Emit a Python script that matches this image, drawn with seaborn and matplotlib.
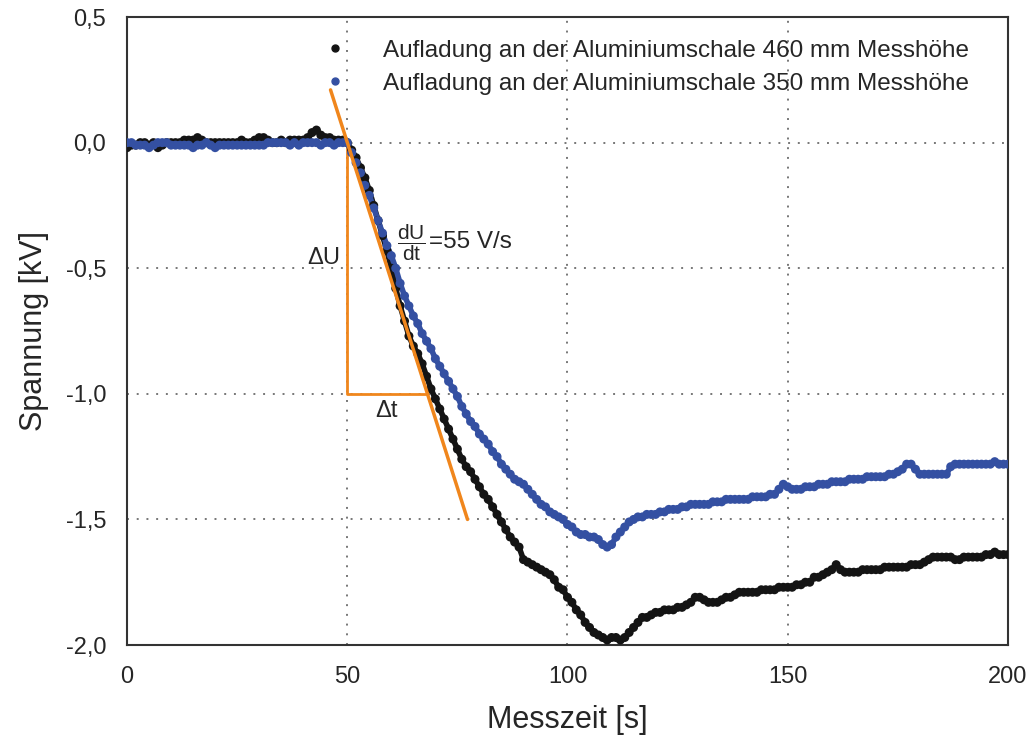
import numpy as np
import pandas as pd
import matplotlib
matplotlib.use("Agg")
import matplotlib.pyplot as plt
from matplotlib.lines import Line2D
from matplotlib.ticker import FuncFormatter
import seaborn as sns

# Messzeit in s (1 s raster)
zeit = list(range(0, 201))

# Aufladung 460 mm Messhöhe [kV]
u_460 = [
    -0.02, -0.01, -0.01, 0.00, 0.00, -0.01, 0.00, -0.02, -0.01, 0.00,
    0.00, 0.00, 0.00, 0.01, 0.01, 0.01, 0.02, 0.01, 0.00, 0.00,
    0.00, 0.00, 0.00, 0.00, 0.00, 0.00, 0.01, 0.00, 0.00, 0.01,
    0.02, 0.02, 0.01, 0.00, 0.00, 0.01, 0.00, 0.01, 0.01, 0.01,
    0.01, 0.02, 0.04, 0.05, 0.03, 0.02, 0.02, 0.01, 0.01, 0.01,
    0.00, -0.03, -0.06, -0.10, -0.14, -0.19, -0.25, -0.31, -0.37, -0.43,
    -0.50, -0.58, -0.65, -0.71, -0.77, -0.81, -0.84, -0.88, -0.93, -0.98,
    -1.02, -1.06, -1.10, -1.14, -1.18, -1.22, -1.26, -1.29, -1.31, -1.34,
    -1.37, -1.40, -1.42, -1.45, -1.48, -1.51, -1.54, -1.57, -1.59, -1.61,
    -1.66, -1.67, -1.68, -1.69, -1.70, -1.71, -1.72, -1.74, -1.77, -1.78,
    -1.81, -1.83, -1.86, -1.88, -1.91, -1.93, -1.95, -1.96, -1.97, -1.98,
    -1.97, -1.97, -1.98, -1.97, -1.95, -1.93, -1.91, -1.89, -1.89, -1.88,
    -1.87, -1.87, -1.86, -1.86, -1.86, -1.85, -1.85, -1.84, -1.83, -1.81,
    -1.81, -1.82, -1.83, -1.83, -1.83, -1.82, -1.81, -1.81, -1.80, -1.79,
    -1.79, -1.79, -1.79, -1.79, -1.78, -1.78, -1.78, -1.78, -1.77, -1.77,
    -1.77, -1.77, -1.76, -1.76, -1.75, -1.75, -1.73, -1.73, -1.72, -1.71,
    -1.70, -1.68, -1.70, -1.71, -1.71, -1.71, -1.71, -1.70, -1.70, -1.70,
    -1.70, -1.70, -1.69, -1.69, -1.69, -1.69, -1.69, -1.69, -1.68, -1.68,
    -1.68, -1.67, -1.66, -1.65, -1.65, -1.65, -1.65, -1.65, -1.66, -1.66,
    -1.65, -1.65, -1.65, -1.65, -1.65, -1.64, -1.64, -1.63, -1.64, -1.64,
    -1.64,
]

# Aufladung 350 mm Messhöhe [kV]
u_350 = [
    0.00, 0.00, -0.01, -0.01, -0.01, -0.02, -0.01, 0.00, 0.00, 0.00,
    -0.01, -0.01, -0.01, -0.01, -0.01, -0.02, -0.01, -0.01, 0.00, -0.01,
    -0.02, -0.01, -0.01, -0.01, -0.01, -0.01, -0.01, -0.01, -0.01, -0.01,
    -0.01, -0.01, 0.00, 0.00, 0.00, 0.00, 0.00, -0.01, 0.00, -0.01,
    0.00, 0.00, 0.00, 0.00, -0.01, 0.00, 0.00, -0.01, 0.00, 0.00,
    0.00, -0.04, -0.08, -0.12, -0.17, -0.21, -0.26, -0.31, -0.36, -0.41,
    -0.45, -0.50, -0.56, -0.61, -0.65, -0.69, -0.72, -0.76, -0.79, -0.82,
    -0.86, -0.89, -0.92, -0.95, -0.98, -1.01, -1.05, -1.08, -1.11, -1.13,
    -1.16, -1.18, -1.20, -1.23, -1.25, -1.28, -1.30, -1.32, -1.34, -1.35,
    -1.36, -1.38, -1.40, -1.42, -1.44, -1.45, -1.47, -1.48, -1.49, -1.50,
    -1.52, -1.53, -1.55, -1.56, -1.56, -1.57, -1.57, -1.58, -1.60, -1.61,
    -1.60, -1.57, -1.55, -1.53, -1.51, -1.50, -1.49, -1.49, -1.48, -1.48,
    -1.48, -1.47, -1.47, -1.46, -1.46, -1.46, -1.45, -1.45, -1.44, -1.44,
    -1.44, -1.44, -1.44, -1.43, -1.43, -1.43, -1.42, -1.42, -1.42, -1.42,
    -1.42, -1.42, -1.41, -1.41, -1.41, -1.41, -1.40, -1.40, -1.38, -1.36,
    -1.37, -1.38, -1.38, -1.38, -1.37, -1.37, -1.37, -1.36, -1.36, -1.36,
    -1.35, -1.35, -1.35, -1.35, -1.34, -1.34, -1.34, -1.34, -1.33, -1.33,
    -1.33, -1.33, -1.33, -1.32, -1.32, -1.31, -1.30, -1.28, -1.28, -1.30,
    -1.32, -1.32, -1.32, -1.32, -1.32, -1.32, -1.32, -1.29, -1.28, -1.28,
    -1.28, -1.28, -1.28, -1.28, -1.28, -1.28, -1.28, -1.27, -1.28, -1.28,
    -1.28,
]

label_460 = "Aufladung an der Aluminiumschale 460 mm Messhöhe"
label_350 = "Aufladung an der Aluminiumschale 350 mm Messhöhe"

# Tangente (dU/dt = 55 V/s) und Steigungsdreieck
tangente_t = [46.2, 77.3]
tangente_u = [0.21, -1.50]
dreieck_t = [50, 50, 68.2]
dreieck_u = [0.0, -1.0, -1.0]

x_ticks = [0, 50, 100, 150, 200]
y_ticks = [0.5, 0.0, -0.5, -1.0, -1.5, -2.0]

farbe_460 = "#141414"
farbe_350 = "#3450a2"
farbe_orange = "#f0861c"

df = pd.DataFrame({
    "Messzeit": zeit + zeit,
    "Spannung": u_460 + u_350,
    "Reihe": [label_460] * len(zeit) + [label_350] * len(zeit),
})
palette = {label_460: farbe_460, label_350: farbe_350}

sns.set_style("white")
plt.rcParams["font.family"] = ["Liberation Sans", "DejaVu Sans"]
plt.rcParams["mathtext.fontset"] = "custom"
plt.rcParams["mathtext.rm"] = "Liberation Sans"
plt.rcParams["mathtext.it"] = "Liberation Sans"

fig = plt.figure(figsize=(10.32, 7.47), dpi=100)
ax = fig.add_axes([0.1231, 0.1365, 0.8536, 0.8407])

# dense measuring points: connecting line + dots
sns.lineplot(data=df, x="Messzeit", y="Spannung", hue="Reihe", palette=palette,
             estimator=None, sort=False, lw=4.0, legend=False, ax=ax, zorder=3)
sns.scatterplot(data=df, x="Messzeit", y="Spannung", hue="Reihe", palette=palette,
                s=42, linewidth=0, legend=False, ax=ax, zorder=3)

ax.plot(tangente_t, tangente_u, color=farbe_orange, lw=2.5, zorder=4)
ax.plot(dreieck_t, dreieck_u, color=farbe_orange, lw=2.0, zorder=2)

ax.set_xlim(0, 200)
ax.set_ylim(-2.0, 0.5)
ax.set_xticks(x_ticks)
ax.set_yticks(y_ticks)
ax.yaxis.set_major_formatter(FuncFormatter(lambda v, p: f"{v:.1f}".replace(".", ",")))
ax.xaxis.set_major_formatter(FuncFormatter(lambda v, p: f"{v:.0f}"))
ax.grid(True, linestyle=(0, (1, 4)), color="#777777", linewidth=1.4)
ax.tick_params(axis="both", labelsize=17, direction="out", length=7, width=1.5,
               color="#333333", pad=8)
for sp in ax.spines.values():
    sp.set_linewidth(1.5)
    sp.set_color("#333333")

ax.set_xlabel("Messzeit [s]", fontsize=22, labelpad=12)
ax.set_ylabel("Spannung [kV]", fontsize=22, labelpad=12)

ax.text(48.4, -0.46, "ΔU", fontsize=17, ha="right", va="center")
ax.text(58.8, -1.07, "Δt", fontsize=17, ha="center", va="center")
ax.text(61.2, -0.40, r"$\dfrac{\mathrm{dU}}{\mathrm{dt}}$", fontsize=15,
        ha="left", va="center")
ax.text(68.6, -0.395, "=55 V/s", fontsize=17.5, ha="left", va="center")

handles = [
    Line2D([], [], marker="o", linestyle="none", markersize=5, color=farbe_460),
    Line2D([], [], marker="o", linestyle="none", markersize=5, color=farbe_350),
]
ax.legend(handles, [label_460, label_350], loc="upper left",
          bbox_to_anchor=(0.20, 0.995), frameon=False, fontsize=17.5,
          handlelength=1.0, handletextpad=1.5, labelspacing=0.45,
          borderaxespad=0.4)

fig.savefig("out.png", dpi=100)
